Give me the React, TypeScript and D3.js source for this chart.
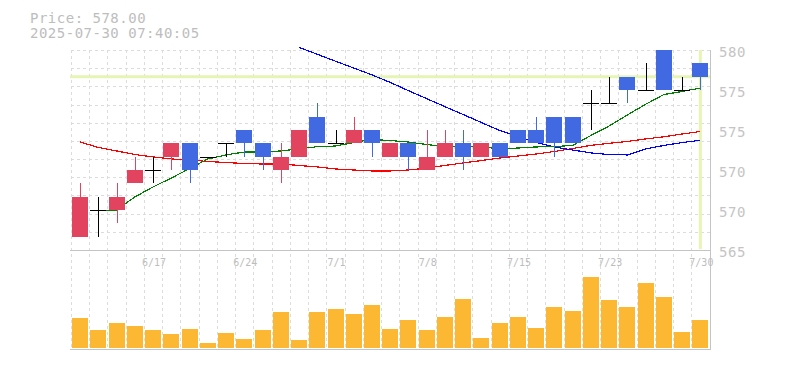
import React from "react";
import * as d3 from "d3";

const dates = ["6/11","6/12","6/13","6/16","6/17","6/18","6/19","6/20","6/23","6/24","6/25","6/26","6/27","6/30","7/1","7/2","7/3","7/4","7/7","7/8","7/9","7/10","7/11","7/14","7/15","7/16","7/17","7/18","7/22","7/23","7/24","7/25","7/28","7/29","7/30"];
const opens  = [566,568,568,570,571,572,573,572,573,574,573,571,572,575,573,573,574,572,573,571,572,573,572,573,574,574,575,575,576,576,578,577,580,577,579];
const highs  = [570,569,570,572,572,573,573,572,573,574,573,573,574,576,574,575,574,573,573,574,574,574,573,573,574,575,575,575,577,578,578,579,580,578,579];
const lows   = [566,566,567,570,570,571,570,572,572,572,571,570,572,573,573,573,572,572,571,571,572,571,572,572,573,573,572,573,574,576,576,577,577,577,577];
const closes = [569,568,569,571,571,573,571,572,573,573,572,572,574,573,573,574,573,573,572,572,573,572,573,572,573,573,573,573,576,576,577,577,577,577,578];
const volumes = [3000,1800,2500,2200,1800,1400,1900,500,1500,900,1800,3600,800,3600,3900,3400,4300,1900,2800,1800,3100,4900,1000,2500,3100,2000,4100,3700,7100,4800,4100,6500,5100,1600,2800];

const maShort: (number | null)[] = [null,567.93,568.0,568.98,569.73,570.4,571.11,571.83,572.13,572.35,572.35,572.43,572.58,572.75,572.8,573.06,573.29,573.21,573.1,572.91,572.76,572.75,572.75,572.58,572.65,572.73,572.76,572.84,573.59,574.3,575.13,575.93,576.66,576.89,577.15];
const maMid: (number | null)[] = [573.1,572.69,572.43,572.16,571.98,571.83,571.75,571.64,571.56,571.49,571.45,571.45,571.34,571.23,571.08,571.0,570.93,570.93,571.0,571.15,571.34,571.53,571.71,571.9,572.05,572.2,572.39,572.61,572.85,573.0,573.14,573.33,573.49,573.7,573.89];
const maLong: (number | null)[] = [null,null,null,null,null,null,null,null,null,null,null,null,580.2,579.68,579.16,578.65,578.13,577.57,576.95,576.35,575.75,575.16,574.56,573.96,573.51,573.06,572.73,572.5,572.28,572.16,572.13,572.58,572.84,573.06,573.23];

const priceTicks = [580, 577, 574, 571, 568, 565];
const priceTickLabels = ["580", "575", "575", "570", "570", "565"];
const xLabels = ["6/17", "6/24", "7/1", "7/8", "7/15", "7/23", "7/30"];
const currentPrice = 578.0;
const timestamp = "2025-07-30 07:40:05";

const RED = "#e2435f";
const BLUE = "#4169e1";
const GRID = "#dcdcdc";
const AXIS = "#c4c4c4";
const TEXT = "#bdbdbd";
const HL = "#e6f5b4";
const VOL = "#fdb833";
const FONT = "'DejaVu Sans Mono', 'Liberation Mono', monospace";

export default function App() {
  const W = 785, H = 370;
  const left = 71, right = 709.5, top = 50, pBottom = 250, vTop = 250, vBottom = 348;
  const x = d3.scaleBand<string>().domain(dates).range([left, right]).padding(0);
  const bw = x.bandwidth();
  const cx = (i: number) => (x(dates[i]) as number) + bw / 2;
  const y = d3.scaleLinear().domain([565, 580]).range([pBottom, top]);
  const yv = d3.scaleLinear().domain([0, 9800]).range([vBottom, vTop]);
  const bodyW = 16;

  const hGrid = d3.range(0, 11).map((k) => top + (k * (pBottom - top)) / 11);
  const vGrid = dates.map((d) => x(d) as number);

  const line = d3
    .line<number | null>()
    .defined((v) => v != null)
    .x((_, i) => cx(i))
    .y((v) => y(v as number));

  const lastIdx = dates.length - 1;

  return (
    <svg width={W} height={H} style={{ position: "absolute", left: 0, top: 0, background: "#fff" }}>
      {/* header */}
      <text x={30} y={23} fontFamily={FONT} fontSize={14} letterSpacing={0.5} fill={TEXT}>
        {`Price: ${currentPrice.toFixed(2)}`}
      </text>
      <text x={30} y={37.5} fontFamily={FONT} fontSize={14} letterSpacing={0.5} fill={TEXT}>
        {timestamp}
      </text>

      {/* grid */}
      <g stroke={GRID} strokeWidth={1} strokeDasharray="3,3" shapeRendering="crispEdges">
        {hGrid.map((gy, i) => (
          <line key={"h" + i} x1={left} x2={right} y1={Math.round(gy) + 0.5} y2={Math.round(gy) + 0.5} />
        ))}
        {vGrid.map((gx, i) => (
          <line key={"v" + i} x1={Math.round(gx) + 0.5} x2={Math.round(gx) + 0.5} y1={top} y2={vBottom + 1} />
        ))}
      </g>

      {/* highlight lines */}
      <line x1={left - 1} x2={right + 1} y1={y(currentPrice)} y2={y(currentPrice)} stroke={HL} strokeWidth={3} />
      <line x1={cx(lastIdx)} x2={cx(lastIdx)} y1={top} y2={pBottom - 1} stroke={HL} strokeWidth={3} />

      {/* axis frame */}
      <g stroke={AXIS} strokeWidth={1} shapeRendering="crispEdges">
        <line x1={left - 1} x2={right + 1} y1={250.5} y2={250.5} />
        <line x1={left - 1} x2={right + 1} y1={349.5} y2={349.5} />
        <line x1={710.5} x2={710.5} y1={top} y2={350} />
      </g>

      {/* moving averages */}
      <g fill="none" strokeWidth={1.2} shapeRendering="crispEdges">
        <path d={line(maMid) || ""} stroke="#ff0000" />
        <path d={line(maLong) || ""} stroke="#0000ff" />
        <path d={line(maShort) || ""} stroke="#008000" />
      </g>

      {/* candles */}
      <g shapeRendering="crispEdges">
        {dates.map((d, i) => {
          const o = opens[i], c = closes[i], h = highs[i], l = lows[i];
          const color = c > o ? RED : c < o ? BLUE : "#000";
          const xc = Math.round(cx(i)) + 0.5;
          const bx = Math.round((x(d) as number) + (bw - bodyW) / 2);
          if (o === c) {
            return (
              <g key={d} stroke={color} strokeWidth={1}>
                {h !== l && <line x1={xc} x2={xc} y1={y(h)} y2={y(l)} />}
                <line x1={bx} x2={bx + bodyW} y1={Math.round(y(o)) + 0.5} y2={Math.round(y(o)) + 0.5} strokeWidth={1.5} />
              </g>
            );
          }
          const yTop = y(Math.max(o, c));
          const yBot = y(Math.min(o, c));
          return (
            <g key={d}>
              <line x1={xc} x2={xc} y1={y(h)} y2={y(l)} stroke={color} strokeWidth={1} />
              <rect x={bx} y={yTop} width={bodyW} height={yBot - yTop} fill={color} />
            </g>
          );
        })}
      </g>

      {/* volume */}
      <g fill={VOL} shapeRendering="crispEdges">
        {dates.map((d, i) => {
          const bx = Math.round((x(d) as number) + (bw - bodyW) / 2);
          return <rect key={d} x={bx} y={yv(volumes[i])} width={bodyW} height={vBottom - yv(volumes[i])} />;
        })}
      </g>

      {/* price axis labels */}
      <g fontFamily={FONT} fontSize={14} letterSpacing={0.6} fill={AXIS}>
        {priceTicks.map((t, i) => (
          <text key={i} x={719} y={y(t) + 7.3}>
            {priceTickLabels[i]}
          </text>
        ))}
      </g>

      {/* date labels */}
      <g fontFamily={FONT} fontSize={10} fill={TEXT} textAnchor="middle">
        {xLabels.map((lab) => {
          const i = dates.indexOf(lab);
          return (
            <text key={lab} x={cx(i) + 1} y={265.7}>
              {lab}
            </text>
          );
        })}
      </g>
    </svg>
  );
}
